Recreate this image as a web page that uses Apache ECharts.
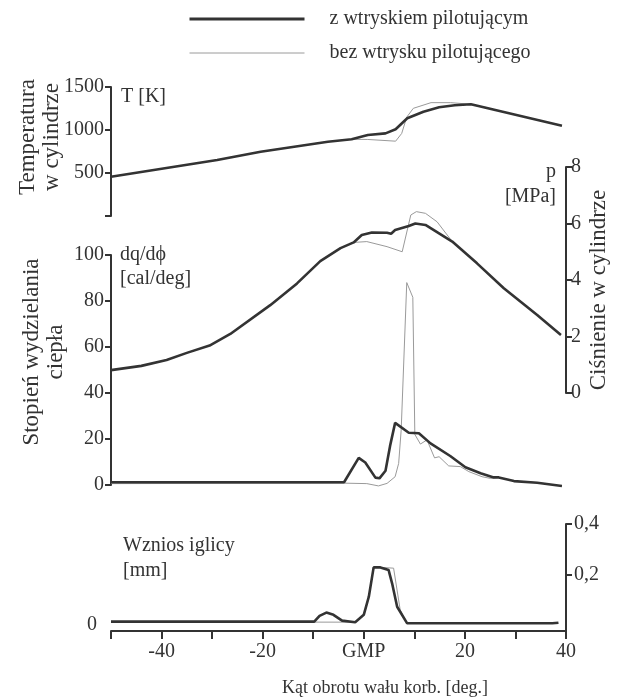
<!DOCTYPE html>
<html>
<head>
<meta charset="utf-8">
<script src="https://cdn.jsdelivr.net/npm/echarts@6/dist/echarts.min.js"></script>
<style>
  html, body { margin: 0; padding: 0; background: #fff; }
  #chart { width: 622px; height: 700px; }
</style>
</head>
<body>
<div id="chart"></div>
<script>
const PILOT = 'z wtryskiem pilotującym'
const NO_PILOT = 'bez wtrysku pilotującego'

// temperatura w cylindrze [K] : [kąt, T]
const tempPilot = [[-50, 457], [-29, 651], [-20.4, 748], [-7.1, 864], [-2.4, 892], [0.8, 942], [4.3, 961], [6.3, 1008], [8.6, 1136], [11.8, 1213], [14.9, 1264], [18, 1287], [21.2, 1299], [39.2, 1050]]
const tempNoPilot = [[-50, 457], [-29, 651], [-20.4, 748], [-7.1, 864], [-2.4, 892], [0.8, 890], [6.3, 870], [7.5, 960], [8.5, 1150], [9.8, 1252], [13.3, 1318], [17.2, 1318], [21.2, 1299], [39.2, 1050]]

// ciśnienie w cylindrze [MPa]
const presPilot = [[-50, 0.81], [-44, 0.96], [-39, 1.17], [-35, 1.42], [-30.5, 1.68], [-26.4, 2.09], [-18.5, 3.11], [-13.2, 3.88], [-8.6, 4.67], [-4.6, 5.13], [-2, 5.33], [-0.4, 5.59], [1.6, 5.68], [4.6, 5.67], [5.4, 5.64], [6.2, 5.77], [8.9, 5.91], [10.2, 6.0], [12.2, 5.95], [17.5, 5.36], [22.4, 4.59], [27.7, 3.71], [34.3, 2.76], [39, 2.05]]
const presNoPilot = [[-50, 0.81], [-44, 0.96], [-39, 1.17], [-35, 1.42], [-30.5, 1.68], [-26.4, 2.09], [-18.5, 3.11], [-13.2, 3.88], [-8.6, 4.67], [-4.6, 5.13], [-2, 5.33], [0.6, 5.36], [4.6, 5.18], [7.6, 5.0], [9.3, 6.3], [10.4, 6.42], [12.2, 6.36], [14.5, 6.06], [17.5, 5.36], [22.4, 4.59], [27.7, 3.71], [34.3, 2.76], [39, 2.05]]

// stopień wydzielania ciepła [cal/deg]
const heatPilot = [[-50, 1.2], [-3.9, 1.2], [-1, 11.8], [0.3, 9.8], [2.3, 3.2], [3.1, 2.9], [4.3, 6.2], [5.2, 17], [6.2, 27], [8.9, 22.7], [10.9, 22.5], [13.2, 18.1], [17.1, 12.6], [20.1, 7.7], [23.1, 5.1], [25.7, 3.3], [26.7, 3.3], [29.7, 1.7], [34.3, 1.0], [39.2, -0.4]]
const heatNoPilot = [[-50, 0.6], [-3.8, 0.8], [0.6, 0.6], [2.9, -0.4], [4.6, 0.7], [6.2, 3.6], [6.9, 9.4], [7.4, 24], [8.5, 88], [9.7, 81.6], [10.1, 22], [11.2, 17.8], [12.5, 19.6], [14, 11.8], [14.9, 12.3], [16.8, 8.3], [19.1, 8], [20.8, 5.8], [23.4, 3.6], [25, 2.9], [26.7, 3.3], [29.7, 1.7], [34.3, 1.0], [39.2, -0.4]]

// wznios iglicy [mm]
const liftPilot = [[-50, 0.013], [-9.8, 0.013], [-8.75, 0.036], [-7.4, 0.049], [-6, 0.04], [-4.3, 0.017], [-1.7, 0.011], [0, 0.04], [1, 0.112], [1.95, 0.228], [3.3, 0.228], [4.9, 0.218], [5.6, 0.165], [6.6, 0.072], [8.55, 0.007], [37.3, 0.007], [38.5, 0.009]]
const liftNoPilot = [[-50, 0.012], [-1.7, 0.011], [0, 0.04], [1, 0.112], [1.95, 0.228], [3.3, 0.228], [5.9, 0.225], [7.2, 0.06], [8.55, 0.007], [38.5, 0.007]]

const font = 'Liberation Serif'
const ink = '#333'
const thin = { color: '#9a9a9a', width: 1 }
const thick = { color: '#333', width: 2.6 }

const axisLine = { show: true, onZero: false, lineStyle: { color: ink, width: 2 } }
const axisLabel = { color: ink, fontFamily: font, fontSize: 20 }
const tick = { show: true, length: 6, lineStyle: { color: ink, width: 2 } }

function xAx(grid, show) {
  return {
    type: 'value', gridIndex: grid, min: -50, max: 40, interval: 10, show: show,
    axisLine: axisLine,
    axisTick: { show: true, length: 8, lineStyle: { color: ink, width: 2 } },
    axisLabel: Object.assign({}, axisLabel, {
      margin: 11,
      formatter: v => (v === 0 ? 'GMP' : (v % 20 === 0 ? String(v) : ''))
    }),
    splitLine: { show: false }
  }
}

function line(name, data, x, y, style) {
  return {
    type: 'line', name: name, data: data, xAxisIndex: x, yAxisIndex: y,
    symbol: 'none', clip: false, lineStyle: style, color: style.color,
    z: style === thick ? 3 : 2
  }
}

function txt(x, y, text, opt) {
  return {
    type: 'text', x: x, y: y, rotation: opt.rot || 0,
    style: {
      text: text, fill: ink, fontFamily: font, fontSize: opt.size || 20,
      lineHeight: opt.lh || 24, align: opt.align || 'left', verticalAlign: 'middle'
    }
  }
}

const chart = echarts.init(document.getElementById('chart'))

chart.setOption({
  animation: false,
  backgroundColor: '#fff',
  legend: {
    orient: 'vertical', left: 183, top: 4, itemWidth: 115, itemHeight: 16, itemGap: 14,
    selectedMode: false,
    itemStyle: { color: 'rgba(0,0,0,0)', borderWidth: 0 },
    data: [
      { name: PILOT, lineStyle: { width: 3 } },
      { name: NO_PILOT, lineStyle: { width: 1 } }
    ],
    textStyle: { color: ink, fontFamily: font, fontSize: 20, padding: [0, 0, 0, 20] }
  },
  grid: [
    { left: 111, right: 56, top: 87, height: 129 },
    { left: 111, right: 56, top: 255, height: 230 },
    { left: 111, right: 56, top: 167, height: 226 },
    { left: 111, right: 56, top: 524, height: 107 }
  ],
  xAxis: [xAx(0, false), xAx(1, false), xAx(2, false), xAx(3, true)],
  yAxis: [
    {
      type: 'value', gridIndex: 0, min: 0, max: 1500, interval: 500, position: 'left',
      axisLine: axisLine, axisTick: tick,
      axisLabel: Object.assign({}, axisLabel, { margin: 7, formatter: v => (v === 0 ? '' : v) }),
      splitLine: { show: false }
    },
    {
      type: 'value', gridIndex: 1, min: 0, max: 100, interval: 20, position: 'left',
      axisLine: axisLine, axisTick: tick,
      axisLabel: Object.assign({}, axisLabel, { margin: 7 }),
      splitLine: { show: false }
    },
    {
      type: 'value', gridIndex: 2, min: 0, max: 8, interval: 2, position: 'right',
      axisLine: axisLine, axisTick: tick,
      axisLabel: Object.assign({}, axisLabel, { margin: 5 }),
      splitLine: { show: false }
    },
    {
      type: 'value', gridIndex: 3, min: -0.024, max: 0.4, position: 'right',
      axisLine: axisLine,
      axisTick: Object.assign({}, tick, { customValues: [0.2, 0.4] }),
      axisLabel: Object.assign({}, axisLabel, {
        margin: 8, customValues: [0.2, 0.4],
        formatter: v => v.toFixed(1).replace('.', ',')
      }),
      splitLine: { show: false }
    },
    {
      type: 'value', gridIndex: 3, min: -0.024, max: 0.4, position: 'left',
      axisLine: { show: false, onZero: false }, axisTick: { show: false },
      axisLabel: Object.assign({}, axisLabel, { margin: 14, customValues: [0] }),
      splitLine: { show: false }
    }
  ],
  graphic: [
    txt(40, 137, 'Temperatura\nw cylindrze', { rot: Math.PI / 2, size: 23, lh: 24, align: 'center' }),
    txt(44, 352, 'Stopień wydzielania\nciepła', { rot: Math.PI / 2, size: 23, lh: 24, align: 'center' }),
    txt(599, 290, 'Ciśnienie w cylindrze', { rot: Math.PI / 2, size: 23, align: 'center' }),
    txt(121, 97, 'T [K]', {}),
    txt(120, 267, 'dq/dϕ\n[cal/deg]', { lh: 24 }),
    txt(556, 184, 'p\n[MPa]', { lh: 25, align: 'right' }),
    txt(123, 558, 'Wznios iglicy\n[mm]', { lh: 25 }),
    txt(385, 688, 'Kąt obrotu wału korb. [deg.]', { size: 18, align: 'center' })
  ],
  series: [
    line(NO_PILOT, tempNoPilot, 0, 0, thin),
    line(PILOT, tempPilot, 0, 0, thick),
    line(NO_PILOT, heatNoPilot, 1, 1, thin),
    line(PILOT, heatPilot, 1, 1, thick),
    line(NO_PILOT, presNoPilot, 2, 2, thin),
    line(PILOT, presPilot, 2, 2, thick),
    line(NO_PILOT, liftNoPilot, 3, 3, thin),
    line(PILOT, liftPilot, 3, 3, thick)
  ]
})
</script>
</body>
</html>
